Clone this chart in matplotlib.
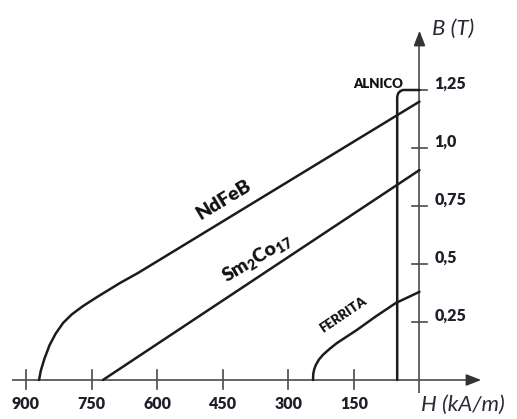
import matplotlib
matplotlib.use("Agg")
import matplotlib.pyplot as plt

plt.rcParams["mathtext.fontset"] = "custom"
plt.rcParams["mathtext.rm"] = "Lato:heavy"
plt.rcParams["mathtext.it"] = "Lato:heavy"
plt.rcParams["mathtext.bf"] = "Lato:heavy"

# ---- data (H in kA/m, B in T) ----
ndfeb_H = [0, 555, 644, 685, 737, 770, 795, 815, 832, 846, 858, 866, 870]
ndfeb_B = [1.20, 0.563, 0.461, 0.418, 0.358, 0.318, 0.283, 0.246, 0.200, 0.150, 0.090, 0.04, 0.0]

smco_H = [0, 724]
smco_B = [0.905, 0.0]

ferrita_H = [0, 54, 100, 143, 189, 205, 221, 230, 237, 241, 243, 243.5]
ferrita_B = [0.38, 0.332, 0.274, 0.216, 0.159, 0.135, 0.108, 0.088, 0.065, 0.045, 0.025, 0.0]

alnico_H = [0, 38, 44, 49, 51, 51]
alnico_B = [1.25, 1.25, 1.245, 1.235, 1.22, 0.0]

H_ticks = [900, 750, 600, 450, 300, 150]
H_tick_labels = ["900", "750", "600", "450", "300", "150"]
B_ticks = [1.25, 1.0, 0.75, 0.5, 0.25]
B_tick_labels = ["1,25", "1,0", "0,75", "0,5", "0,25"]

# ---- figure ----
W, Hh = 517, 419
fig = plt.figure(figsize=(W / 100, Hh / 100), dpi=100)
ax = fig.add_axes([0, 0, 1, 1])
ax.axis("off")

# pixel mapping: x_px = 419.5 - 0.4373*H ; y_px = 380 - 232*B
kx, x0 = 0.4373, 419.5
ky, y0 = 232.0, 380.0
ax.set_xlim(x0 / kx, (x0 - W) / kx)
ax.set_ylim((y0 - Hh) / ky, y0 / ky)

dx = 1 / kx   # data units per pixel (H)
dy = 1 / ky   # data units per pixel (B)

axis_col = "#4a4a4a"
curve_col = "#1c1c1c"
text_col = "#1f1f2a"
FONT = "Lato"
WT = "heavy"

# H axis with arrow
ax.plot([(x0 - 12) * dx, (x0 - 472) * dx], [0, 0], color=axis_col, lw=1.2, solid_capstyle="butt")
ax.annotate("", xy=((x0 - 484) * dx, 0), xytext=((x0 - 470) * dx, 0),
            arrowprops=dict(arrowstyle="-|>,head_length=0.9,head_width=0.35", color="#333333", lw=1.2))
# B axis with arrow
ax.plot([0, 0], [(y0 - 393) * dy, (y0 - 42) * dy], color=axis_col, lw=1.2, solid_capstyle="butt")
ax.annotate("", xy=(0, (y0 - 28) * dy), xytext=(0, (y0 - 42) * dy),
            arrowprops=dict(arrowstyle="-|>,head_length=0.9,head_width=0.35", color="#333333", lw=1.2))

# ticks
for h in H_ticks:
    ax.plot([h, h], [-9 * dy, 10 * dy], color=axis_col, lw=1.2)
for b in B_ticks:
    ax.plot([7 * dx, -8 * dx], [b, b], color=axis_col, lw=1.2)

# tick labels
for h, lab in zip(H_ticks, H_tick_labels):
    ax.text(h, -24 * dy, lab, ha="center", va="center", fontsize=11.5,
            fontweight=WT, family=FONT, color=text_col)
for b, lab in zip(B_ticks, B_tick_labels):
    ax.text(-15 * dx, b + 6 * dy, lab, ha="left", va="center", fontsize=11.5,
            fontweight=WT, family=FONT, color=text_col)

# axis titles
ax.text(-13 * dx, (y0 - 29) * dy, "B (T)", ha="left", va="center", fontsize=16,
        style="italic", family=FONT, color="#2a2a35")
ax.text(-2 * dx, (y0 - 405) * dy, "H (kA/m)", ha="left", va="center", fontsize=16,
        style="italic", family=FONT, color="#2a2a35")

# curves
lw = 1.8
ax.plot(ndfeb_H, ndfeb_B, color=curve_col, lw=lw, solid_capstyle="round", solid_joinstyle="round")
ax.plot(smco_H, smco_B, color=curve_col, lw=lw, solid_capstyle="round")
ax.plot(ferrita_H, ferrita_B, color=curve_col, lw=lw, solid_capstyle="round", solid_joinstyle="round")
ax.plot(alnico_H, alnico_B, color=curve_col, lw=lw, solid_capstyle="round", solid_joinstyle="round")

# curve labels
ax.text((x0 - 224) * dx, (y0 - 200) * dy, "NdFeB", rotation=31, ha="center", va="center",
        fontsize=14, fontweight=WT, family=FONT, color="#111111", rotation_mode="anchor")
ax.text((x0 - 257) * dx, (y0 - 258) * dy, r"Sm$_2$Co$_{17}$", rotation=31, ha="center", va="center",
        fontsize=14, fontweight=WT, family=FONT, color="#111111", rotation_mode="anchor")
ax.text((x0 - 343) * dx, (y0 - 315) * dy, "FERRITA", rotation=34, ha="center", va="center",
        fontsize=9.5, fontweight=WT, family=FONT, color="#111111", rotation_mode="anchor")
ax.text((x0 - 403) * dx, (y0 - 84) * dy, "ALNICO", ha="right", va="center",
        fontsize=9.5, fontweight=WT, family=FONT, color="#111111")

fig.savefig("out.png", dpi=100)
